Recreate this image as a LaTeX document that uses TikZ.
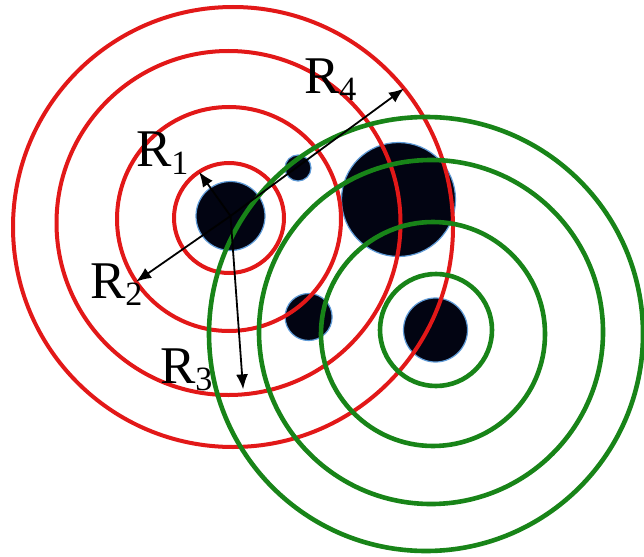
\documentclass[tikz,border=0pt]{standalone}
\usepackage{fontspec}
\setmainfont{Liberation Serif}
\usetikzlibrary{arrows.meta}
\definecolor{ringred}{RGB}{226,24,24}
\definecolor{ringgreen}{RGB}{24,132,24}
\definecolor{blobedge}{RGB}{95,155,215}
\definecolor{blobfill}{RGB}{2,4,18}
\newcommand{\subdigit}[1]{\raisebox{-7pt}{\fontsize{34}{34}\selectfont #1}}
\tikzset{
  redring/.style={circle, draw=ringred, line width=4pt, inner sep=0pt, outer sep=0pt, minimum size=#1},
  greenring/.style={circle, draw=ringgreen, line width=4.6pt, inner sep=0pt, outer sep=0pt, minimum size=#1},
  blob/.style={circle, fill=blobfill, draw=blobedge, line width=1.2pt, inner sep=0pt, outer sep=0pt, minimum size=#1},
  radarrow/.style={draw=black, line width=1.8pt, -{Latex[length=15pt,width=12pt]}},
  lab/.style={inner sep=0pt, outer sep=0pt, anchor=base west, font=\fontsize{53}{60}\selectfont}
}
\begin{document}
\begin{tikzpicture}[x=1pt, y=-1pt]
\useasboundingbox[fill=white] (0,0) rectangle (644,556);
% blobs
\node[blob=69pt]  (b0) at (230.5,216) {};
\node[blob=26pt]  (b1) at (298,168) {};
\node[blob=114pt] (b2) at (398.5,199.5) {};
\node[blob=47pt]  (b3) at (308.6,317) {};
\node[blob=64pt]  (b4) at (435.5,330) {};
% red rings
\node[redring=110pt] (r1) at (229,218) {};
\node[redring=224pt] (r2) at (229,219) {};
\node[redring=344pt] (r3) at (228.5,223) {};
\node[redring=440pt] (r4) at (233,227) {};
% green rings
\node[greenring=112pt] (g1) at (436,330) {};
\node[greenring=224pt] (g2) at (433,334) {};
\node[greenring=344pt] (g3) at (431,332) {};
\node[greenring=434pt] (g4) at (426,334) {};
% radius arrows
\draw[radarrow] (b0.center) -- (r1.123);
\draw[radarrow] (b0.center) -- (r2.214);
\draw[radarrow, shorten >=5pt] (b0.center) -- (r3.275);
\draw[radarrow] (b0.center) -- (r4.39);
% labels
\node[lab] (l1) at (136,167) {R\subdigit{1}};
\node[lab] (l2) at (90,298) {R\subdigit{2}};
\node[lab] (l3) at (160,383) {R\subdigit{3}};
\node[lab] (l4) at (304,94) {R\subdigit{4}};
\end{tikzpicture}
\end{document}
